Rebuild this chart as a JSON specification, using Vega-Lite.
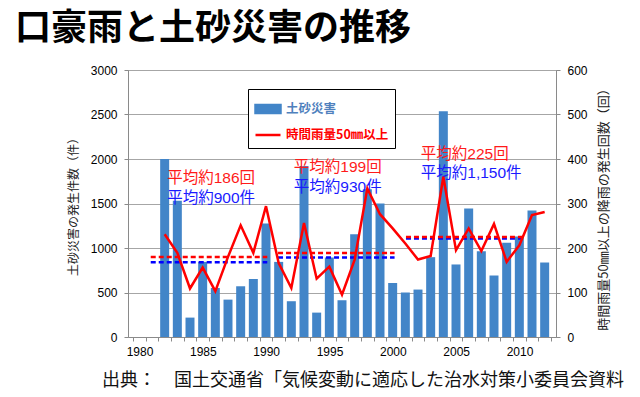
{
  "$schema": "https://vega.github.io/schema/vega-lite/v6.json",
  "width": 428,
  "height": 267,
  "autosize": {"type": "none"},
  "padding": {"left": 128, "top": 70, "right": 84, "bottom": 60},
  "background": "white",
  "title": {
    "text": "口豪雨と土砂災害の推移",
    "anchor": "start",
    "frame": "group",
    "dx": -113,
    "offset": 16,
    "fontSize": 36,
    "font": "Noto Sans CJK JP",
    "fontWeight": "bold",
    "color": "#000000"
  },
  "config": {
    "view": {"stroke": "#9a9a9a", "strokeWidth": 1},
    "font": "Liberation Sans, Noto Sans CJK JP",
    "axis": {
      "labelFont": "Liberation Sans",
      "labelFontSize": 12,
      "labelColor": "#000000",
      "titleFont": "Noto Sans CJK JP",
      "titleFontWeight": "normal",
      "titleColor": "#222222",
      "titleFontSize": 12,
      "domainColor": "#8a8a8a",
      "gridColor": "#a6a6a6",
      "tickColor": "#8a8a8a"
    }
  },
  "datasets": {
    "main": [
      {"year": 1982, "count": 2000, "rain": 231},
      {"year": 1983, "count": 1530, "rain": 189},
      {"year": 1984, "count": 218, "rain": 109},
      {"year": 1985, "count": 844, "rain": 156},
      {"year": 1986, "count": 551, "rain": 103},
      {"year": 1987, "count": 420, "rain": 180},
      {"year": 1988, "count": 570, "rain": 251},
      {"year": 1989, "count": 652, "rain": 189},
      {"year": 1990, "count": 1275, "rain": 294},
      {"year": 1991, "count": 844, "rain": 166},
      {"year": 1992, "count": 402, "rain": 110},
      {"year": 1993, "count": 1920, "rain": 256},
      {"year": 1994, "count": 274, "rain": 131},
      {"year": 1995, "count": 893, "rain": 158},
      {"year": 1996, "count": 413, "rain": 95},
      {"year": 1997, "count": 1155, "rain": 174},
      {"year": 1998, "count": 1660, "rain": 334},
      {"year": 1999, "count": 1500, "rain": 276},
      {"year": 2000, "count": 607, "rain": 244},
      {"year": 2001, "count": 500, "rain": 210},
      {"year": 2002, "count": 533, "rain": 174},
      {"year": 2003, "count": 897, "rain": 182},
      {"year": 2004, "count": 2537, "rain": 360},
      {"year": 2005, "count": 815, "rain": 195},
      {"year": 2006, "count": 1444, "rain": 244},
      {"year": 2007, "count": 964, "rain": 193},
      {"year": 2008, "count": 691, "rain": 254},
      {"year": 2009, "count": 1058, "rain": 169},
      {"year": 2010, "count": 1128, "rain": 206},
      {"year": 2011, "count": 1422, "rain": 274},
      {"year": 2012, "count": 837, "rain": 281}
    ],
    "avgCount": [
      {"year": 1980.9, "end": 1990.1, "count": 840},
      {"year": 1990.95, "end": 2000.15, "count": 893},
      {"year": 2001.05, "end": 2010.35, "count": 1107}
    ],
    "avgRain": [
      {"year": 1980.9, "end": 1990.1, "rain": 180},
      {"year": 1990.95, "end": 2000.15, "rain": 189},
      {"year": 2001.05, "end": 2010.35, "rain": 225}
    ],
    "notesRain": [
      {"year": 1982.2, "count": 1785, "label": "平均約186回"},
      {"year": 1992.2, "count": 1909, "label": "平均約199回"},
      {"year": 2002.22, "count": 2055, "label": "平均約225回"}
    ],
    "notesCount": [
      {"year": 1982.2, "count": 1560, "label": "平均約900件"},
      {"year": 1992.2, "count": 1684, "label": "平均約930件"},
      {"year": 2002.22, "count": 1841, "label": "平均約1,150件"}
    ]
  },
  "encoding": {
    "x": {
      "field": "year",
      "type": "quantitative",
      "scale": {"domain": [1979.5, 2012.5], "nice": false, "zero": false},
      "axis": {
        "values": [1979.5, 1980.5, 1981.5, 1982.5, 1983.5, 1984.5, 1985.5, 1986.5, 1987.5, 1988.5, 1989.5, 1990.5, 1991.5, 1992.5, 1993.5, 1994.5, 1995.5, 1996.5, 1997.5, 1998.5, 1999.5, 2000.5, 2001.5, 2002.5, 2003.5, 2004.5, 2005.5, 2006.5, 2007.5, 2008.5, 2009.5, 2010.5, 2011.5, 2012.5],
        "labelExpr": "((datum.value + 0.5) % 5 == 0) ? format(datum.value + 0.5, 'd') : ''",
        "labelOverlap": false,
        "labelFlush": false,
        "labelOffset": 6.5,
        "grid": false,
        "ticks": true,
        "tickSize": 4,
        "labelPadding": 5,
        "title": "出典：　国土交通省「気候変動に適応した治水対策小委員会資料",
        "titleFontSize": 18,
        "titleColor": "#111111",
        "titleX": 234.5,
        "titleY": 43,
        "titleAlign": "center",
        "titleBaseline": "middle"
      }
    }
  },
  "layer": [
    {
      "encoding": {
        "y": {
          "field": "count",
          "type": "quantitative",
          "scale": {"domain": [0, 3000], "nice": false},
          "axis": {
            "orient": "left",
            "values": [0, 500, 1000, 1500, 2000, 2500, 3000],
            "format": "d",
            "grid": true,
            "tickSize": 4,
            "labelPadding": 7,
            "title": "土砂災害の発生件数（件）",
            "titleX": -55,
            "titleY": 133.5,
            "titleAngle": -90,
            "titleAlign": "center",
            "titleBaseline": "middle"
          }
        }
      },
      "layer": [
        {
          "data": {"name": "main"},
          "mark": {"type": "bar", "width": 9},
          "encoding": {
            "color": {
              "datum": "土砂災害",
              "type": "nominal",
              "scale": {"domain": ["土砂災害", "時間雨量50㎜以上"], "range": ["#4285c8", "#ff0000"]},
              "legend": {
                "orient": "none",
                "legendX": 120,
                "legendY": 19,
                "title": null,
                "strokeColor": "#000000",
                "fillColor": "#ffffff",
                "padding": 6,
                "cornerRadius": 0,
                "labelFont": "Noto Sans CJK JP",
                "labelFontWeight": "bold",
                "labelFontSize": 12.5,
                "symbolSize": 625,
                "rowPadding": 3,
                "labelOffset": 4,
                "encode": {
                  "symbols": {
                    "update": {
                      "shape": {"signal": "datum.value === '土砂災害' ? 'M-1,-0.32H1V0.32H-1Z' : 'stroke'"},
                      "fill": {"signal": "datum.value === '土砂災害' ? '#4285c8' : 'transparent'"},
                      "stroke": {"signal": "datum.value === '土砂災害' ? 'transparent' : '#ff0000'"},
                      "strokeWidth": {"value": 2.5},
                      "opacity": {"value": 1}
                    }
                  },
                  "labels": {
                    "update": {
                      "fill": {"signal": "datum.value === '土砂災害' ? '#4f81bd' : '#ff0000'"}
                    }
                  }
                }
              }
            }
          }
        },
        {
          "data": {"name": "avgCount"},
          "mark": {"type": "rule", "color": "#0000ff", "strokeWidth": 2.5, "strokeDash": [5, 3]},
          "encoding": {
            "x2": {"field": "end"}
          }
        },
        {
          "data": {"name": "notesRain"},
          "mark": {"type": "text", "align": "left", "baseline": "middle", "fontSize": 15.5, "font": "Liberation Sans, Noto Sans CJK JP", "color": "#ff1a1a"},
          "encoding": {
            "text": {"field": "label"}
          }
        },
        {
          "data": {"name": "notesCount"},
          "mark": {"type": "text", "align": "left", "baseline": "middle", "fontSize": 15.5, "font": "Liberation Sans, Noto Sans CJK JP", "color": "#1a1aff"},
          "encoding": {
            "text": {"field": "label"}
          }
        }
      ]
    },
    {
      "encoding": {
        "y": {
          "field": "rain",
          "type": "quantitative",
          "scale": {"domain": [0, 600], "nice": false},
          "axis": {
            "orient": "right",
            "values": [0, 100, 200, 300, 400, 500, 600],
            "format": "d",
            "grid": false,
            "tickSize": 4,
            "labelPadding": 7,
            "title": "時間雨量50㎜以上の降雨の発生回数（回）",
            "titleFontSize": 13,
            "titleX": 47,
            "titleY": 136,
            "titleAngle": -90,
            "titleAlign": "center",
            "titleBaseline": "middle"
          }
        }
      },
      "layer": [
        {
          "data": {"name": "main"},
          "mark": {"type": "line", "strokeWidth": 2.5},
          "encoding": {
            "color": {"datum": "時間雨量50㎜以上", "type": "nominal"}
          }
        },
        {
          "data": {"name": "avgRain"},
          "mark": {"type": "rule", "color": "#ff0000", "strokeWidth": 2.5, "strokeDash": [5, 3]},
          "encoding": {
            "x2": {"field": "end"}
          }
        }
      ]
    }
  ],
  "resolve": {"scale": {"y": "independent"}}
}
